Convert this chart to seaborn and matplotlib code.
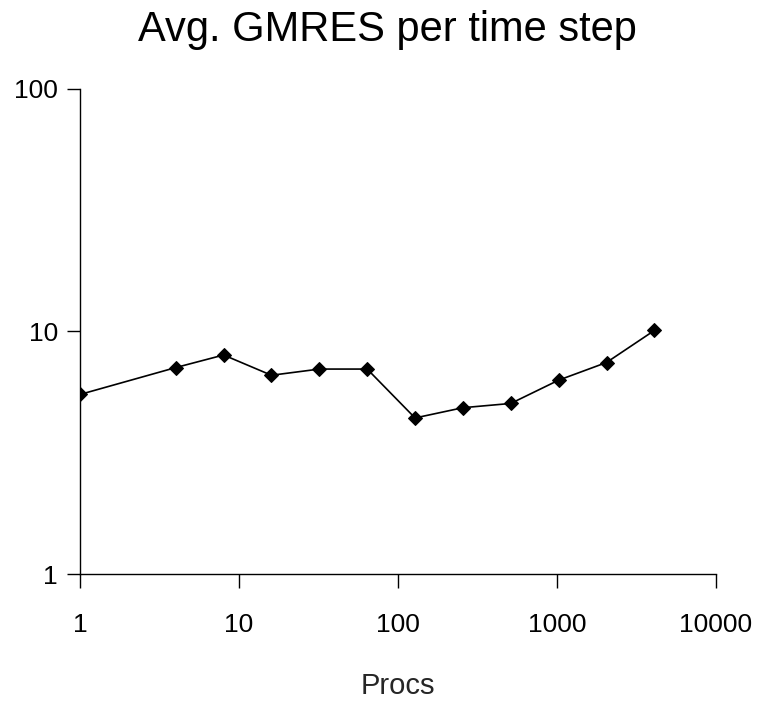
import numpy as np
import pandas as pd
import matplotlib
matplotlib.use("Agg")
import matplotlib.pyplot as plt
import seaborn as sns
from matplotlib.ticker import FixedLocator, NullLocator

sns.set_style("ticks")
plt.rcParams['font.family'] = ['Liberation Sans', 'DejaVu Sans']
plt.rcParams['text.color'] = 'black'
plt.rcParams['xtick.color'] = 'black'
plt.rcParams['ytick.color'] = 'black'

procs = [1, 4, 8, 16, 32, 64, 128, 256, 512, 1024, 2048, 4096]
gmres = [5.5, 7.1, 8.0, 6.6, 7.0, 7.0, 4.4, 4.85, 5.05, 6.3, 7.45, 10.1]

df = pd.DataFrame({"Procs": procs, "GMRES": gmres})

fig = plt.figure(figsize=(7.63, 7.03), dpi=100)
ax = fig.add_axes([80 / 763, 1 - 574 / 703, (716 - 80) / 763, (574 - 89) / 703])

sns.lineplot(data=df, x="Procs", y="GMRES", ax=ax, color="black", linewidth=1.2,
             marker="D", markersize=7, markeredgecolor="black")

ax.set_xscale("log")
ax.set_yscale("log")
ax.set_xlim(1, 10000)
ax.set_ylim(1, 100)

xt = [1, 10, 100, 1000, 10000]
yt = [1, 10, 100]
ax.xaxis.set_major_locator(FixedLocator(xt))
ax.yaxis.set_major_locator(FixedLocator(yt))
ax.xaxis.set_minor_locator(NullLocator())
ax.yaxis.set_minor_locator(NullLocator())
ax.set_xticklabels([str(v) for v in xt], fontsize=19)
ax.set_yticklabels([str(v) for v in yt], fontsize=19)
ax.tick_params(axis="x", length=10, width=1, pad=18)
ax.tick_params(axis="y", length=9.4, width=1, pad=6.5)

sns.despine(ax=ax)
for s in ["left", "bottom"]:
    ax.spines[s].set_color("black")
    ax.spines[s].set_linewidth(1)

ax.set_xlabel("Procs", fontsize=21)
ax.xaxis.set_label_coords(0.5, (574 - 672) / 485)
ax.set_ylabel("")
fig.suptitle("Avg. GMRES per time step", fontsize=30, x=387 / 763,
             y=1 - 10 / 703, va="top")

fig.savefig("out.png", dpi=100)
